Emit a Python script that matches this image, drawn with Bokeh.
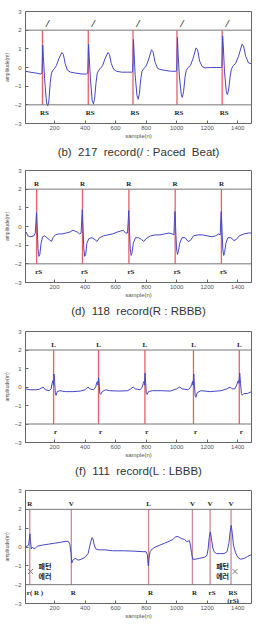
from bokeh.plotting import figure
from bokeh.layouts import column
from bokeh.models import LinearAxis, FixedTicker, Span, Title, Range1d
from bokeh.core.properties import value
from bokeh.embed import file_html
from bokeh.resources import INLINE

# ---------------- data ----------------
x_ticks = [200, 400, 600, 800, 1000, 1200, 1400]
y_ticks = [-3, -2, -1, 0, 1, 2, 3]

# panel (b) 217 record, paced beats
p1_x = [10, 40, 80, 110, 118, 120, 123, 127, 135, 148, 156, 163, 172, 180, 190, 200, 212, 230, 248, 258, 270, 285, 305, 340, 380, 410,
        418, 420, 423, 427, 435, 447, 455, 462, 472, 480, 490, 500, 515, 532, 550, 560, 572, 588, 605, 640, 680, 708,
        712, 714, 717, 721, 728, 740, 748, 756, 765, 773, 785, 798, 815, 835, 845, 858, 875, 890, 920, 960, 998,
        1000, 1002, 1005, 1009, 1017, 1030, 1037, 1045, 1055, 1063, 1075, 1090, 1108, 1127, 1137, 1150, 1167, 1185, 1220, 1260, 1293,
        1296, 1298, 1301, 1305, 1313, 1325, 1332, 1340, 1350, 1358, 1370, 1385, 1405, 1428, 1438, 1452, 1470, 1490]
p1_y = [-0.2, -0.25, -0.3, -0.35, -0.3, 0.3, 1.2, 0.6, -0.6, -1.9, -2.05, -1.8, -0.8, -0.3, -0.15, -0.05, 0.1, 0.5, 0.8, 0.7, 0.2, -0.15, -0.25, -0.3, -0.35, -0.35,
        -0.3, 0.3, 1.25, 0.6, -0.6, -1.8, -1.95, -1.7, -0.8, -0.3, -0.15, -0.05, 0.1, 0.5, 0.8, 0.7, 0.2, -0.1, -0.2, -0.25, -0.25, -0.25,
        -0.2, 0.4, 1.5, 0.8, -0.4, -1.5, -1.7, -1.4, -0.6, -0.2, -0.05, 0.05, 0.4, 0.95, 0.85, 0.3, -0.05, -0.1, -0.15, -0.2, -0.2,
        -0.15, 0.5, 1.6, 0.8, -0.4, -1.45, -1.6, -1.3, -0.5, -0.15, 0.0, 0.1, 0.5, 1.05, 0.95, 0.35, 0.05, -0.02, 0.0, 0.0, 0.0,
        0.05, 0.6, 1.7, 1.2, -0.2, -1.3, -1.45, -1.2, -0.5, -0.1, 0.1, 0.2, 0.6, 1.25, 1.15, 0.6, 0.25, 0.2]
p1_beats = [121, 421, 714, 1002, 1298]
p1_top = ["/", "/", "/", "/", "/"]
p1_bottom = ["RS", "RS", "RS", "RS", "RS"]

# panel (d) 118 record, RBBB
p2_x = [15, 25, 45, 65, 74, 78, 82, 86, 92, 98, 104, 112, 122, 135, 150, 165, 180, 190, 205, 225, 250, 275, 300, 320, 335, 350, 365,
        374, 378, 382, 386, 392, 398, 404, 412, 425, 445, 465, 478, 495, 520, 550, 580, 610, 630, 650, 665,
        678, 682, 686, 690, 696, 702, 708, 716, 730, 750, 770, 785, 800, 830, 860, 890, 920, 950, 970,
        982, 985, 989, 993, 999, 1005, 1011, 1020, 1035, 1055, 1075, 1090, 1110, 1140, 1170, 1200, 1230, 1255, 1275,
        1285, 1288, 1292, 1296, 1302, 1308, 1314, 1322, 1335, 1355, 1375, 1390, 1410, 1440, 1470, 1490]
p2_y = [-0.3, -0.5, -0.55, -0.5, -0.35, 0.2, 0.75, 0.1, -1.2, -1.6, -1.5, -0.9, -0.55, -0.5, -0.6, -0.7, -0.8, -0.6, -0.45, -0.4, -0.4, -0.35, -0.3, -0.2, -0.25, -0.3, -0.4,
        -0.35, 0.3, 0.9, 0.1, -1.2, -1.6, -1.5, -0.9, -0.65, -0.6, -0.7, -0.8, -0.6, -0.5, -0.45, -0.4, -0.3, -0.25, -0.2, -0.35,
        -0.35, 0.2, 0.85, 0.0, -1.2, -1.55, -1.4, -0.9, -0.6, -0.6, -0.7, -0.8, -0.65, -0.5, -0.45, -0.45, -0.4, -0.35, -0.4,
        -0.45, 0.2, 0.8, 0.0, -1.2, -1.5, -1.35, -0.9, -0.6, -0.6, -0.8, -0.75, -0.5, -0.45, -0.45, -0.5, -0.55, -0.5, -0.4,
        -0.45, 0.2, 0.8, 0.0, -1.2, -1.55, -1.4, -0.9, -0.6, -0.6, -0.75, -0.7, -0.5, -0.4, -0.35, -0.35]
p2_beats = [83, 383, 687, 990, 1293]
p2_top = ["R", "R", "R", "R", "R"]
p2_bottom = ["rS", "rS", "rS", "rS", "rS"]

# panel (f) 111 record, LBBB
p3_x = [10, 40, 80, 100, 115, 125, 140, 165, 178, 184, 190, 193, 197, 201, 205, 210, 218, 235, 270, 320, 370, 400, 412, 420, 430, 455,
        470, 476, 482, 485, 489, 493, 497, 502, 512, 535, 560, 620, 680, 700, 715, 728, 760,
        775, 781, 786, 789, 793, 797, 801, 806, 815, 840, 900, 960, 1000, 1020, 1035, 1075,
        1092, 1099, 1104, 1107, 1112, 1116, 1121, 1126, 1135, 1160, 1220, 1290, 1330, 1350, 1362, 1380,
        1393, 1400, 1405, 1408, 1413, 1418, 1424, 1430, 1440, 1465, 1490]
p3_y = [-0.1, -0.15, -0.15, -0.12, -0.05, 0.0, -0.15, -0.2, -0.1, 0.2, 0.35, 0.1, 0.7, 0.3, -0.3, -0.45, -0.25, -0.2, -0.25, -0.25, -0.22, -0.15, -0.05, 0.0, -0.1, -0.15,
        0.0, 0.25, 0.3, 0.1, 0.5, 0.1, -0.35, -0.4, -0.25, -0.15, -0.2, -0.22, -0.2, -0.1, 0.0, -0.1, -0.15,
        0.0, 0.2, 0.3, 0.1, 0.75, 0.2, -0.3, -0.4, -0.25, -0.2, -0.2, -0.22, -0.1, 0.0, -0.1, -0.15,
        0.0, 0.15, 0.3, 0.1, 0.7, 0.1, -0.45, -0.55, -0.3, -0.2, -0.25, -0.2, -0.1, 0.0, -0.1, -0.1,
        0.1, 0.3, 0.35, 0.2, 0.75, 0.2, -0.35, -0.45, -0.35, -0.35, -0.25]
p3_beats = [194, 488, 792, 1110, 1410]
p3_top = ["L", "L", "L", "L", "L"]
p3_bottom = ["r", "r", "r", "r", "r"]

# panel 4, mixed beats
p4_x = [10, 20, 30, 35, 39, 43, 48, 55, 65, 75, 90, 120, 160, 200, 240, 270, 290, 300, 308, 313, 320, 335, 355, 375, 400, 420, 435, 445, 452, 460, 470,
        490, 530, 580, 650, 720, 780, 800, 808, 814, 819, 826, 840, 860, 890, 920, 950, 975, 995, 1010, 1030, 1050, 1065, 1075, 1083,
        1090, 1097, 1105, 1120, 1150, 1180, 1198, 1206, 1213, 1220, 1227, 1235, 1245, 1260, 1285, 1310, 1330,
        1342, 1350, 1357, 1363, 1372, 1385, 1400, 1420, 1445, 1465, 1490]
p4_y = [0.0, 0.05, 0.1, 0.4, 0.7, 0.3, -0.1, 0.0, -0.1, -0.05, 0.05, 0.1, 0.15, 0.2, 0.25, 0.3, 0.3, 0.15, -0.3, -0.85, -0.7, -0.6, -0.7, -0.65, -0.55, -0.35, 0.2, 0.5, 0.45, 0.1, -0.1,
        -0.15, -0.15, -0.2, -0.2, -0.22, -0.25, -0.25, -0.4, -1.0, -0.6, -0.25, -0.1, 0.0, 0.1, 0.2, 0.3, 0.4, 0.55, 0.55, 0.45, 0.4, 0.3, 0.3, 0.35,
        0.1, -0.3, -0.65, -0.65, -0.6, -0.55, -0.45, -0.1, 0.5, 0.8, 0.5, 0.0, -0.25, -0.35, -0.35, -0.35, -0.25,
        0.2, 0.8, 1.15, 0.8, 0.1, -0.3, -0.55, -0.65, -0.6, -0.5, -0.4]
p4_beats = [38, 310, 816, 1103, 1219, 1356]
p4_top = ["R", "V", "L", "V", "V", "V"]
p4_bottom = ["r( R )", "R", "R", "R", "rS", "RS\n(rS)"]
p4_err_x = [43, 1382]
p4_err_y = [-1.3, -1.3]
p4_err_text = ["패턴\n에러", "패턴\n에러"]

NB = "\u00a0"
captions = ["(b)" + NB * 2 + "217" + NB * 2 + "record(/" + NB + ":" + NB + "Paced" + NB * 2 + "Beat)",
            "(d)" + NB * 2 + "118" + NB * 2 + "record(R" + NB + ":" + NB + "RBBB)",
            "(f)" + NB * 2 + "111" + NB * 2 + "record(L" + NB + ":" + NB + "LBBB)",
            None]

BLUE = "#4646c4"
SERIF = value("Liberation Serif")


def make_panel(xs, ys, beats, tops, bottoms, caption, height, top_border, bottom_border,
               line_color="#e8606c", top_font="7px", top_style="bold", top_xoff=0, first_left=False):
    p = figure(width=256, height=height, output_backend="svg", toolbar_location=None,
               x_range=Range1d(10, 1490), y_range=Range1d(-3, 3),
               min_border_left=24, min_border_right=5, min_border_top=top_border,
               min_border_bottom=bottom_border, x_axis_location=None, y_axis_location=None)
    p.xgrid.visible = False
    p.ygrid.visible = False
    p.outline_line_color = "#666666"
    p.outline_line_width = 1
    p.background_fill_color = "white"
    p.border_fill_color = "white"

    xa = LinearAxis(ticker=FixedTicker(ticks=x_ticks), axis_label="sample(n)",
                    major_label_text_font_size="6px", axis_label_text_font_size="6px",
                    axis_label_text_font_style="normal", axis_label_standoff=0,
                    major_label_standoff=2, major_tick_in=3, major_tick_out=0,
                    minor_tick_line_color=None, axis_line_color=None,
                    major_label_text_color="#555", axis_label_text_color="#555",
                    major_tick_line_color="#666")
    p.add_layout(xa, "below")
    ya = LinearAxis(ticker=FixedTicker(ticks=y_ticks), axis_label="amplitude(m)",
                    major_label_text_font_size="6px", axis_label_text_font_size="5px",
                    axis_label_text_font_style="normal", axis_label_standoff=2,
                    major_label_standoff=4, major_tick_in=3, major_tick_out=0,
                    minor_tick_line_color=None, axis_line_color=None,
                    major_label_text_color="#555", axis_label_text_color="#555",
                    major_tick_line_color="#666")
    p.add_layout(ya, "left")

    for loc in (2, -2):
        p.add_layout(Span(location=loc, dimension="width", line_color="#777777", line_width=1))

    p.segment(x0=beats, y0=[-2] * len(beats), x1=beats, y1=[2] * len(beats),
              line_color=line_color, line_width=1.3)
    p.line(xs, ys, line_color=BLUE, line_width=1)

    p.text(x=beats, y=[2] * len(beats), text=tops, text_font=SERIF, text_font_size=top_font,
           text_font_style=top_style, text_align="center", text_baseline="bottom",
           y_offset=-1, x_offset=top_xoff, text_color="#222")
    start = 1 if first_left else 0
    p.text(x=beats[start:], y=[-2] * len(beats[start:]), text=bottoms[start:], text_font=SERIF,
           text_font_size="7px", text_font_style="bold", text_align="center", text_baseline="top",
           y_offset=4, x_offset=2, text_color="#222", text_line_height=1.0)
    if first_left:
        p.text(x=beats[:1], y=[-2], text=bottoms[:1], text_font=SERIF,
               text_font_size="7px", text_font_style="bold", text_align="left", text_baseline="top",
               y_offset=4, x_offset=-3, text_color="#222")

    if caption:
        t = Title(text=caption, align="center", text_font_size="11.5px", text_font_style="normal",
                  text_color="#333", text_font="Liberation Sans", standoff=4)
        p.add_layout(t, "below")
    return p


f1 = make_panel(p1_x, p1_y, p1_beats, p1_top, p1_bottom, captions[0], 160, 11, 37,
                top_font="11px", top_style="bold italic", top_xoff=5)
f2 = make_panel(p2_x, p2_y, p2_beats, p2_top, p2_bottom, captions[1], 160, 10, 38)
f3 = make_panel(p3_x, p3_y, p3_beats, p3_top, p3_bottom, captions[2], 160, 11, 38)
f4 = make_panel(p4_x, p4_y, p4_beats, p4_top, p4_bottom, captions[3], 148, 10, 25,
                line_color="#c98a98", first_left=True)
f4.scatter(p4_err_x, p4_err_y, marker="x", size=7, line_color="#777777", line_width=1)
f4.text(x=p4_err_x[:1], y=p4_err_y[:1], text=p4_err_text[:1], text_font=value("Noto Sans CJK KR"),
        text_font_size="7px", text_font_style="bold", text_align="left", text_baseline="middle",
        x_offset=8, text_color="#222", text_line_height=1.0)
f4.text(x=p4_err_x[1:], y=p4_err_y[1:], text=p4_err_text[1:], text_font=value("Noto Sans CJK KR"),
        text_font_size="7px", text_font_style="bold", text_align="right", text_baseline="middle",
        x_offset=-6, text_color="#222", text_line_height=1.0)

layout = column(f1, f2, f3, f4, spacing=0)
open("out.html", "w").write(file_html(layout, INLINE))
